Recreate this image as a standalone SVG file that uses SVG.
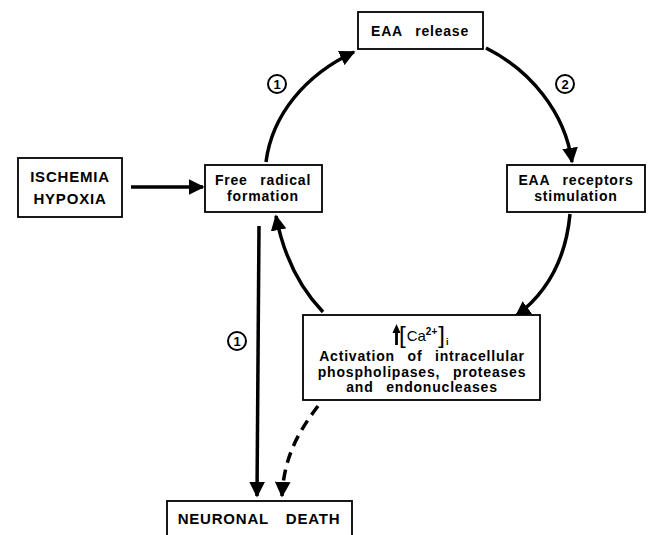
<svg xmlns="http://www.w3.org/2000/svg" width="652" height="535" viewBox="0 0 652 535">
<defs>
<style>
.box{fill:#fff;stroke:#000;stroke-width:1.8}
.t{font-family:"Liberation Sans",Arial,sans-serif;font-weight:bold;font-size:14px;fill:#000;text-anchor:middle;word-spacing:8px;letter-spacing:0.8px}
.tb{font-family:"Liberation Sans",Arial,sans-serif;font-weight:900;font-size:15px;fill:#000;text-anchor:middle;word-spacing:12px;letter-spacing:0.8px}
.c{fill:none;stroke:#000;stroke-width:3.5}
.d{fill:none;stroke:#000;stroke-width:3.5;stroke-dasharray:11 7}
.num{fill:#fff;stroke:#000;stroke-width:2}
.nt{font-family:"Liberation Sans",Arial,sans-serif;font-weight:bold;font-size:13px;fill:#000;text-anchor:middle}
.ca{font-family:"Liberation Sans",Arial,sans-serif;fill:#000}
</style>
<marker id="ah" viewBox="0 0 10 10" refX="9" refY="5" markerWidth="4.5" markerHeight="4.5" markerUnits="strokeWidth" orient="auto">
<path d="M0,0 L10,5 L0,10 z" fill="#000"/>
</marker>
</defs>

<g id="connectors">
<path class="c" d="M131,187 L203,187" marker-end="url(#ah)"/>
<path class="c" d="M266,162 C272,115 305,75 354,52" marker-end="url(#ah)"/>
<path class="c" d="M486,48 C530,70 565,112 572,162" marker-end="url(#ah)"/>
<path class="c" d="M570,214 C566,258 548,292 516,316" marker-end="url(#ah)"/>
<path class="c" d="M323,312 C300,288 284,258 276,216" marker-end="url(#ah)"/>
<path class="c" d="M259,226 L257,496" marker-end="url(#ah)"/>
<path class="d" d="M318,406 C300,430 284,455 282,496" marker-end="url(#ah)"/>
<g id="label1a"><circle class="num" cx="277" cy="84" r="9"/><text class="nt" x="277" y="88.5">1</text></g>
<g id="label2"><circle class="num" cx="565" cy="84" r="9"/><text class="nt" x="565" y="88.5">2</text></g>
<g id="label1b"><circle class="num" cx="237" cy="341" r="9"/><text class="nt" x="237" y="345.5">1</text></g>
</g>

<g id="ischemia">
<rect class="box" x="18" y="158" width="104" height="59"/>
<text class="tb" x="70" y="182">ISCHEMIA</text>
<text class="tb" x="70" y="204">HYPOXIA</text>
</g>

<g id="free-radical">
<rect class="box" x="205" y="165" width="117" height="47"/>
<text class="t" x="263" y="185">Free radical</text>
<text class="t" x="263" y="201">formation</text>
</g>

<g id="eaa-release">
<rect class="box" x="358" y="12" width="125" height="37"/>
<text class="t" x="420" y="36">EAA release</text>
</g>

<g id="eaa-receptors">
<rect class="box" x="507" y="165" width="138" height="47"/>
<text class="t" x="576" y="185">EAA receptors</text>
<text class="t" x="576" y="201">stimulation</text>
</g>

<g id="activation">
<rect class="box" x="303" y="315" width="237" height="85"/>
<path d="M396.5,345 L396.5,331" stroke="#000" stroke-width="2.8"/>
<path d="M392.5,333 L396.5,324 L400.5,333 z" fill="#000"/>
<text class="ca" x="399" y="343" font-size="24">[<tspan font-size="15" dy="-2" dx="1">Ca</tspan><tspan font-size="10" font-weight="bold" dy="-6">2+</tspan><tspan font-size="24" dy="8" dx="1">]</tspan><tspan font-size="9" font-weight="bold" dy="2" dx="1">i</tspan></text>
<text class="t" x="422" y="361">Activation of intracellular</text>
<text class="t" x="422" y="377">phospholipases, proteases</text>
<text class="t" x="422" y="392">and endonucleases</text>
</g>

<g id="neuronal-death">
<rect class="box" x="167" y="501" width="185" height="45"/>
<text class="tb" x="259" y="524">NEURONAL DEATH</text>
</g>
</svg>
